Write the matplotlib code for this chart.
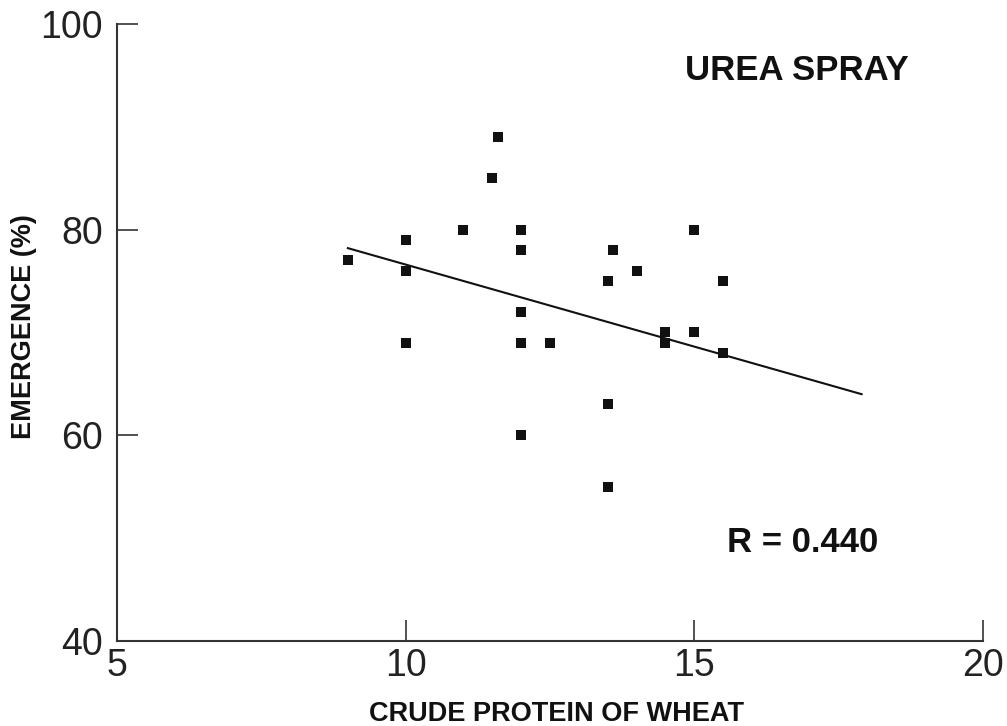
import numpy as np
import matplotlib.pyplot as plt

# data
protein = [9, 10, 10, 10, 11, 11.5, 11.6, 12, 12, 12, 12, 12, 12.5,
           13.5, 13.6, 14, 13.5, 13.5, 14.5, 14.5, 15, 15, 15.5, 15.5]
emergence = [77, 79, 76, 69, 80, 85, 89, 80, 78, 72, 69, 60, 69,
             75, 78, 76, 63, 55, 70, 69, 80, 70, 75, 68]
fit_x = [9, 17.9]
fit_y = [78.2, 64.0]
xticks = [5, 10, 15, 20]
yticks = [40, 60, 80, 100]

fig = plt.figure(figsize=(10.07, 7.26), dpi=100)
ax = fig.add_axes([0.1162, 0.1171, 0.8598, 0.8499])

ax.plot(protein, emergence, 's', color='#111111', ms=7, mew=0)
ax.plot(fit_x, fit_y, '-', color='#111111', lw=1.5)

ax.set_xlim(5, 20)
ax.set_ylim(40, 100)
ax.set_xticks(xticks)
ax.set_yticks(yticks)
ax.spines['top'].set_visible(False)
ax.spines['right'].set_visible(False)
for s in ['left', 'bottom']:
    ax.spines[s].set_color('#333333')
    ax.spines[s].set_linewidth(1.5)
ax.tick_params(direction='in', length=15, width=1.2, color='#333333',
               labelsize=27, labelcolor='#222222')
ax.tick_params(axis='y', pad=10)
ax.tick_params(axis='x', pad=5)
for lab in ax.get_xticklabels() + ax.get_yticklabels():
    lab.set_family('Liberation Sans')

ax.set_xlabel('CRUDE PROTEIN OF WHEAT', fontsize=19.5, fontweight='bold',
              family='Liberation Sans', color='#111111')
ax.xaxis.set_label_coords(0.508, -0.097)
ax.set_ylabel('EMERGENCE (%)', fontsize=19.5, fontweight='bold',
              family='Liberation Sans', color='#111111')
ax.yaxis.set_label_coords(-0.092, 0.509)

ax.text(0.656, 0.925, 'UREA SPRAY', transform=ax.transAxes, fontsize=25,
        fontweight='bold', family='Liberation Sans', va='center', color='#111111')
ax.text(0.704, 0.159, 'R = 0.440', transform=ax.transAxes, fontsize=25,
        fontweight='bold', family='Liberation Sans', va='center', color='#111111')

fig.savefig('out.png', dpi=100)
